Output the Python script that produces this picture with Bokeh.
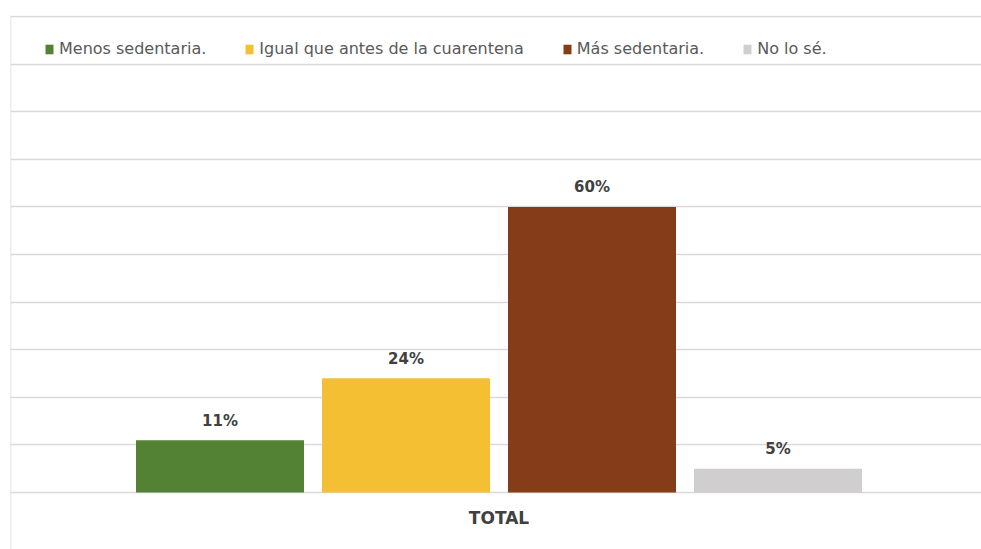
from bokeh.plotting import figure
from bokeh.models import (Range1d, FixedTicker, ColumnDataSource, Legend,
                          LegendItem, LabelSet)
from bokeh.core.properties import value
from bokeh.embed import file_html
from bokeh.resources import INLINE

# ---- data ----
categories = ["TOTAL"]
series = ["Menos sedentaria.", "Igual que antes de la cuarentena",
          "Más sedentaria.", "No lo sé."]
values = [11, 24, 60, 5]
value_labels = ["11%", "24%", "60%", "5%"]
y_ticks = [0, 10, 20, 30, 40, 50, 60, 70, 80, 90, 100]

# ---- styles ----
colors = ["#548235", "#F4BF33", "#843C19", "#D0CECE"]
FONT = "DejaVu Sans"
GRID = "#D9D9D9"

# layout geometry (frame spans page x 10..981, y 15..549)
W, H = 981, 549
left, top = 10, 15
frame_w = float(W - left)
frame_h = float(H - top)
center_px = 498.5
x_start = -(center_px - left) / frame_w
x_end = x_start + 1.0
step = 186.0 / frame_w
bar_w = 168.0 / frame_w
px_per_unit = 4.76
y_end = 100.0 + 1.0 / px_per_unit
y_start = y_end - frame_h / px_per_unit

cat_pos = {c: 0.0 for c in categories}
n = len(series)
xs = [cat_pos[categories[0]] + (i - (n - 1) / 2) * step for i in range(n)]

src = ColumnDataSource(dict(x=xs, top=values, color=colors,
                            series=series, label=value_labels))

p = figure(width=W, height=H, output_backend="svg", toolbar_location=None,
           x_range=Range1d(x_start, x_end), y_range=Range1d(y_start, y_end),
           min_border_left=left, min_border_right=0, min_border_top=top,
           min_border_bottom=0)
p.outline_line_color = None
p.background_fill_color = "white"
p.border_fill_color = "white"

# grid
p.xgrid.grid_line_color = None
p.ygrid.ticker = FixedTicker(ticks=y_ticks)
p.ygrid.grid_line_color = GRID
p.ygrid.grid_line_width = 1.5

# x axis (category label under the baseline)
p.xaxis.fixed_location = 0
p.xaxis.ticker = FixedTicker(ticks=[cat_pos[c] for c in categories])
p.xaxis.major_label_overrides = {cat_pos[c]: c for c in categories}
p.xaxis.axis_line_color = None
p.xaxis.major_tick_line_color = None
p.xaxis.minor_tick_line_color = None
p.xaxis.major_tick_out = 0
p.xaxis.major_tick_in = 0
p.xaxis.major_label_standoff = 15
p.xaxis.major_label_text_font = FONT
p.xaxis.major_label_text_font_size = "17px"
p.xaxis.major_label_text_font_style = "bold"
p.xaxis.major_label_text_color = "#404040"

# y axis: just the vertical line on the left
p.yaxis.fixed_location = x_start
p.yaxis.ticker = FixedTicker(ticks=[])
p.yaxis.axis_line_color = GRID
p.yaxis.axis_line_width = 1.5
p.yaxis.major_tick_line_color = None
p.yaxis.minor_tick_line_color = None
p.yaxis.major_label_text_font_size = "0px"

bars = p.vbar(x="x", top="top", width=bar_w, bottom=0, source=src,
              fill_color="color", line_color=None)

labels = LabelSet(x="x", y="top", text="label", source=src,
                  y_offset=19.5, text_align="center", text_baseline="middle",
                  text_font=value(FONT), text_font_size="15px",
                  text_font_style="bold", text_color="#404040")
p.add_layout(labels)

legend = Legend(items=[LegendItem(label=s, renderers=[bars], index=i)
                       for i, s in enumerate(series)],
                orientation="horizontal", location=(34, 491),
                glyph_width=10, glyph_height=12, label_standoff=5,
                spacing=38, padding=0, margin=0,
                label_text_font=FONT, label_text_font_size="16px",
                label_text_color="#595959", label_height=12,
                background_fill_alpha=0, border_line_color=None)
p.add_layout(legend)

open("out.html", "w").write(file_html(p, INLINE))
